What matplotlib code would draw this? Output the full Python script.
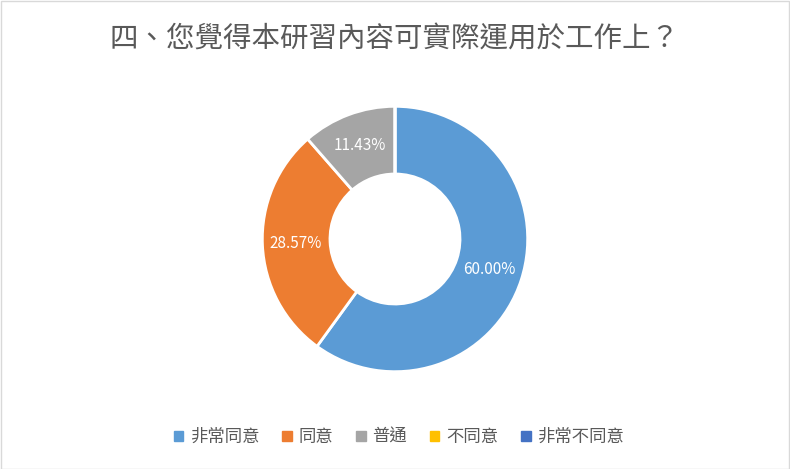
import matplotlib
matplotlib.use("Agg")
import matplotlib.pyplot as plt
from matplotlib.patches import Rectangle
import numpy as np

plt.rcParams['font.family'] = ['Noto Sans CJK TC', 'DejaVu Sans']

title = "四、您覺得本研習內容可實際運用於工作上？"
categories = ["非常同意", "同意", "普通", "不同意", "非常不同意"]
values = [60.00, 28.57, 11.43, 0.0, 0.0]
colors = ["#5B9BD5", "#ED7D31", "#A5A5A5", "#FFC000", "#4472C4"]

fig = plt.figure(figsize=(7.9, 4.69), dpi=100)
fig.patches.append(Rectangle((0.001, 0.001), 0.998, 0.997, transform=fig.transFigure,
                             fill=False, edgecolor="#D9D9D9", linewidth=1))
fig.text(0.5, 0.915, title, ha="center", va="center", fontsize=20.5, color="#595959")

ax = fig.add_axes([(395 - 134) / 790, (469 - 239 - 134) / 469, 268 / 790, 268 / 469])
wedges, _ = ax.pie(values, colors=colors, startangle=90, counterclock=False,
                   wedgeprops=dict(width=0.51, edgecolor="white", linewidth=2))
ang = 90
for v in values:
    if v > 0:
        mid = np.deg2rad(ang - v * 3.6 / 2)
        ax.text(0.75 * np.cos(mid), 0.75 * np.sin(mid), f"{v:.2f}%", ha="center",
                va="center", color="white", fontsize=11)
    ang -= v * 3.6
ax.set_xlim(-1.01, 1.01)
ax.set_ylim(-1.01, 1.01)
ax.set_aspect("equal")

handles = [Rectangle((0, 0), 1, 1, color=c) for c in colors]
fig.legend(handles, categories, loc="center", bbox_to_anchor=(0.505, 0.068), ncol=5,
           frameon=False, fontsize=12.5, handlelength=0.55, handleheight=0.55,
           handletextpad=0.4, columnspacing=1.3, labelcolor="#595959")

fig.savefig("out.png", dpi=100)
